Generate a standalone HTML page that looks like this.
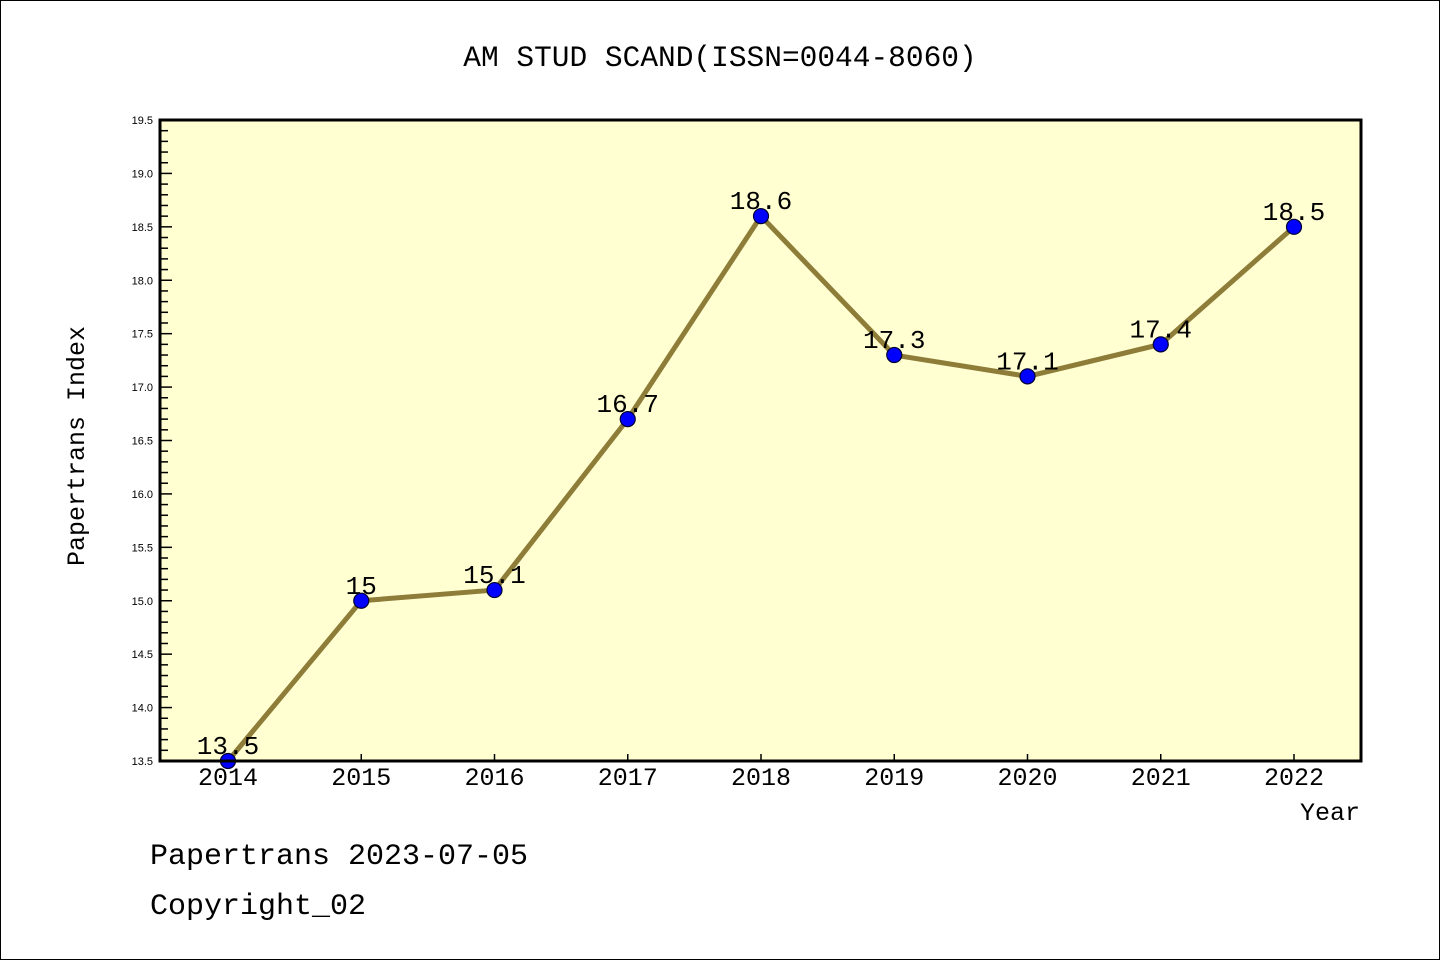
<!DOCTYPE html>
<html><head><meta charset="utf-8"><style>
body{margin:0;background:#fff;}
.m{font-family:"Liberation Mono","DejaVu Sans Mono",monospace;}
.s{font-family:"Liberation Sans","DejaVu Sans",sans-serif;}
</style></head><body>
<svg width="1440" height="960" xmlns="http://www.w3.org/2000/svg">
<rect x="0.5" y="0.5" width="1439" height="959" fill="#fff" stroke="#000" stroke-width="1"/>
<text class="m" x="720" y="66" text-anchor="middle" font-size="29.5">AM STUD SCAND(ISSN=0044-8060)</text>
<rect x="160" y="120" width="1201" height="641" fill="#ffffd2"/>
<g id="yaxis"></g>
<g id="xaxis"></g>
<g id="series"></g>
<rect x="160" y="120" width="1201" height="641" fill="none" stroke="#000" stroke-width="3"/>
<text class="m" transform="translate(84,446) rotate(-90)" text-anchor="middle" font-size="25">Papertrans Index</text>
<text class="m" x="1360" y="820" text-anchor="end" font-size="25">Year</text>
<text class="m" x="150" y="864" font-size="30">Papertrans 2023-07-05</text>
<text class="m" x="150" y="914" font-size="30">Copyright_02</text>
</svg>
<script>
const years = [2014,2015,2016,2017,2018,2019,2020,2021,2022];
const values = [13.5,15,15.1,16.7,18.6,17.3,17.1,17.4,18.5];
const valueLabels = ["13.5","15","15.1","16.7","18.6","17.3","17.1","17.4","18.5"];
const yTicks = [13.5,14.0,14.5,15.0,15.5,16.0,16.5,17.0,17.5,18.0,18.5,19.0,19.5];
const NS="http://www.w3.org/2000/svg";
const X0=228,X1=1294,Y0=761,Y1=120,YMIN=13.5,YMAX=19.5;
const xs=y=>X0+(y-years[0])*(X1-X0)/(years[years.length-1]-years[0]);
const ys=v=>Y0-(v-YMIN)*(Y0-Y1)/(YMAX-YMIN);
function mk(t,a,p){const e=document.createElementNS(NS,t);for(const k in a)e.setAttribute(k,a[k]);p.appendChild(e);return e;}
const ya=document.getElementById('yaxis'),xa=document.getElementById('xaxis'),sg=document.getElementById('series');
for(let i=0;i<=60;i++){const v=YMIN+i*0.1;const y=ys(v);const maj=i%5===0;
 const l=mk('line',{x1:160,x2:maj?172:168,y1:y,y2:y,stroke:'#000','stroke-width':1.5},ya);
 
 }
yTicks.forEach(v=>{const t=mk('text',{x:153,y:ys(v)+4,'text-anchor':'end','font-size':11,'class':'s'},ya);t.textContent=v.toFixed(1);
 
 });
years.forEach(yr=>{const x=xs(yr);
 const l=mk('line',{x1:x,x2:x,y1:761,y2:754,stroke:'#000','stroke-width':1.5},xa);
 
 
 const t=mk('text',{x:x,y:785,'text-anchor':'middle','font-size':25,'class':'m'},xa);t.textContent=yr;
 
 });
const pts=years.map((yr,i)=>xs(yr)+','+ys(values[i])).join(' ');
const pl=mk('polyline',{points:pts,fill:'none',stroke:'#8e7d38','stroke-width':5,'stroke-linejoin':'round'},sg);


years.forEach((yr,i)=>{const x=xs(yr),y=ys(values[i]);
 const t=mk('text',{x:x,y:y-7,'text-anchor':'middle','font-size':26,'class':'m'},sg);t.textContent=valueLabels[i];
 
 
 const c=mk('circle',{cx:x,cy:y,r:7.5,fill:'#0000ff',stroke:'#000033','stroke-width':1.2},sg);
 
 });
</script>
</body></html>
